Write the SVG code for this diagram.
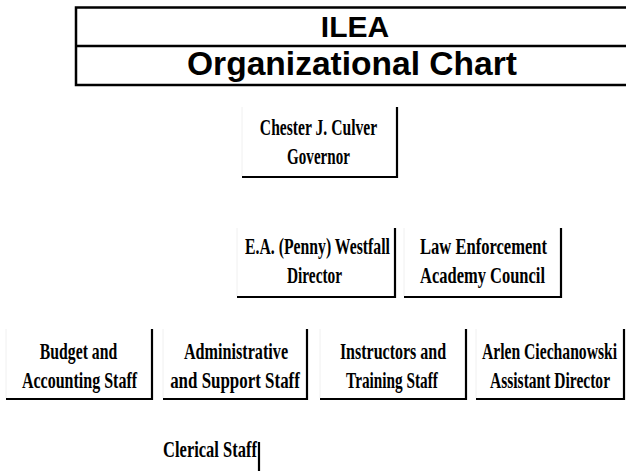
<svg xmlns="http://www.w3.org/2000/svg" width="626" height="475" viewBox="0 0 626 475">
<style>
.t{font-family:"Liberation Serif","Times New Roman",serif;font-weight:bold;font-size:23px;fill:#000;text-anchor:middle}
.h{font-family:"Liberation Sans",Arial,sans-serif;font-weight:bold;fill:#000;text-anchor:middle}
.sh{stroke:#000;stroke-width:2.2;fill:none}
.lt{stroke:#f0f0f0;stroke-width:1;fill:none}
</style>
<rect width="626" height="475" fill="#fff"/>
<g id="title">
<rect x="76" y="7.5" width="560" height="77.5" fill="none" stroke="#000" stroke-width="2.5"/>
<line x1="76" y1="46" x2="636" y2="46" stroke="#000" stroke-width="2.5"/>
<text class="h" x="355" y="37" font-size="30">ILEA</text>
<text class="h" x="352" y="75" font-size="33" textLength="330" lengthAdjust="spacingAndGlyphs">Organizational Chart</text>
</g>
<g id="connectors"/>
<g id="governor">
<line class="lt" x1="242" y1="107" x2="242" y2="176"/>
<path class="sh" d="M397 107V177H242"/>
<text class="t" transform="translate(318.5 135) scale(0.69 1)" textLength="170" lengthAdjust="spacingAndGlyphs">Chester J. Culver</text>
<text class="t" transform="translate(318.5 164) scale(0.69 1)" textLength="91" lengthAdjust="spacingAndGlyphs">Governor</text>
</g>
<g id="director">
<line class="lt" x1="237" y1="228" x2="237" y2="296"/>
<path class="sh" d="M395 228V297H237"/>
<text class="t" transform="translate(317.5 254) scale(0.69 1)" textLength="210" lengthAdjust="spacingAndGlyphs">E.A. (Penny) Westfall</text>
<text class="t" transform="translate(314.5 283) scale(0.69 1)" textLength="80" lengthAdjust="spacingAndGlyphs">Director</text>
</g>
<g id="council">
<line class="lt" x1="404" y1="228" x2="404" y2="296"/>
<path class="sh" d="M561 228V297H404"/>
<text class="t" transform="translate(483.5 254) scale(0.69 1)" textLength="184" lengthAdjust="spacingAndGlyphs">Law Enforcement</text>
<text class="t" transform="translate(482.5 283) scale(0.69 1)" textLength="181" lengthAdjust="spacingAndGlyphs">Academy Council</text>
</g>
<g id="budget">
<line class="lt" x1="6" y1="329" x2="6" y2="398"/>
<path class="sh" d="M152 329V399H6"/>
<text class="t" transform="translate(78.5 359) scale(0.69 1)" textLength="112" lengthAdjust="spacingAndGlyphs">Budget and</text>
<text class="t" transform="translate(79.5 388) scale(0.69 1)" textLength="167" lengthAdjust="spacingAndGlyphs">Accounting Staff</text>
</g>
<g id="admin">
<line class="lt" x1="163" y1="329" x2="163" y2="398"/>
<path class="sh" d="M307 329V399H163"/>
<text class="t" transform="translate(236 359) scale(0.69 1)" textLength="151" lengthAdjust="spacingAndGlyphs">Administrative</text>
<text class="t" transform="translate(235 388) scale(0.69 1)" textLength="188" lengthAdjust="spacingAndGlyphs">and Support Staff</text>
</g>
<g id="instructors">
<line class="lt" x1="320" y1="329" x2="320" y2="398"/>
<path class="sh" d="M466 329V399H320"/>
<text class="t" transform="translate(393 359) scale(0.69 1)" textLength="154" lengthAdjust="spacingAndGlyphs">Instructors and</text>
<text class="t" transform="translate(392 388) scale(0.69 1)" textLength="133" lengthAdjust="spacingAndGlyphs">Training Staff</text>
</g>
<g id="assistant">
<line class="lt" x1="476" y1="329" x2="476" y2="398"/>
<path class="sh" d="M624 329V399H476"/>
<text class="t" transform="translate(549.5 359) scale(0.69 1)" textLength="196" lengthAdjust="spacingAndGlyphs">Arlen Ciechanowski</text>
<text class="t" transform="translate(550 388) scale(0.69 1)" textLength="174" lengthAdjust="spacingAndGlyphs">Assistant Director</text>
</g>
<g id="clerical">
<path class="sh" d="M259 442V471"/>
<text class="t" transform="translate(210 457) scale(0.69 1)" textLength="136" lengthAdjust="spacingAndGlyphs">Clerical Staff</text>
</g>
</svg>
